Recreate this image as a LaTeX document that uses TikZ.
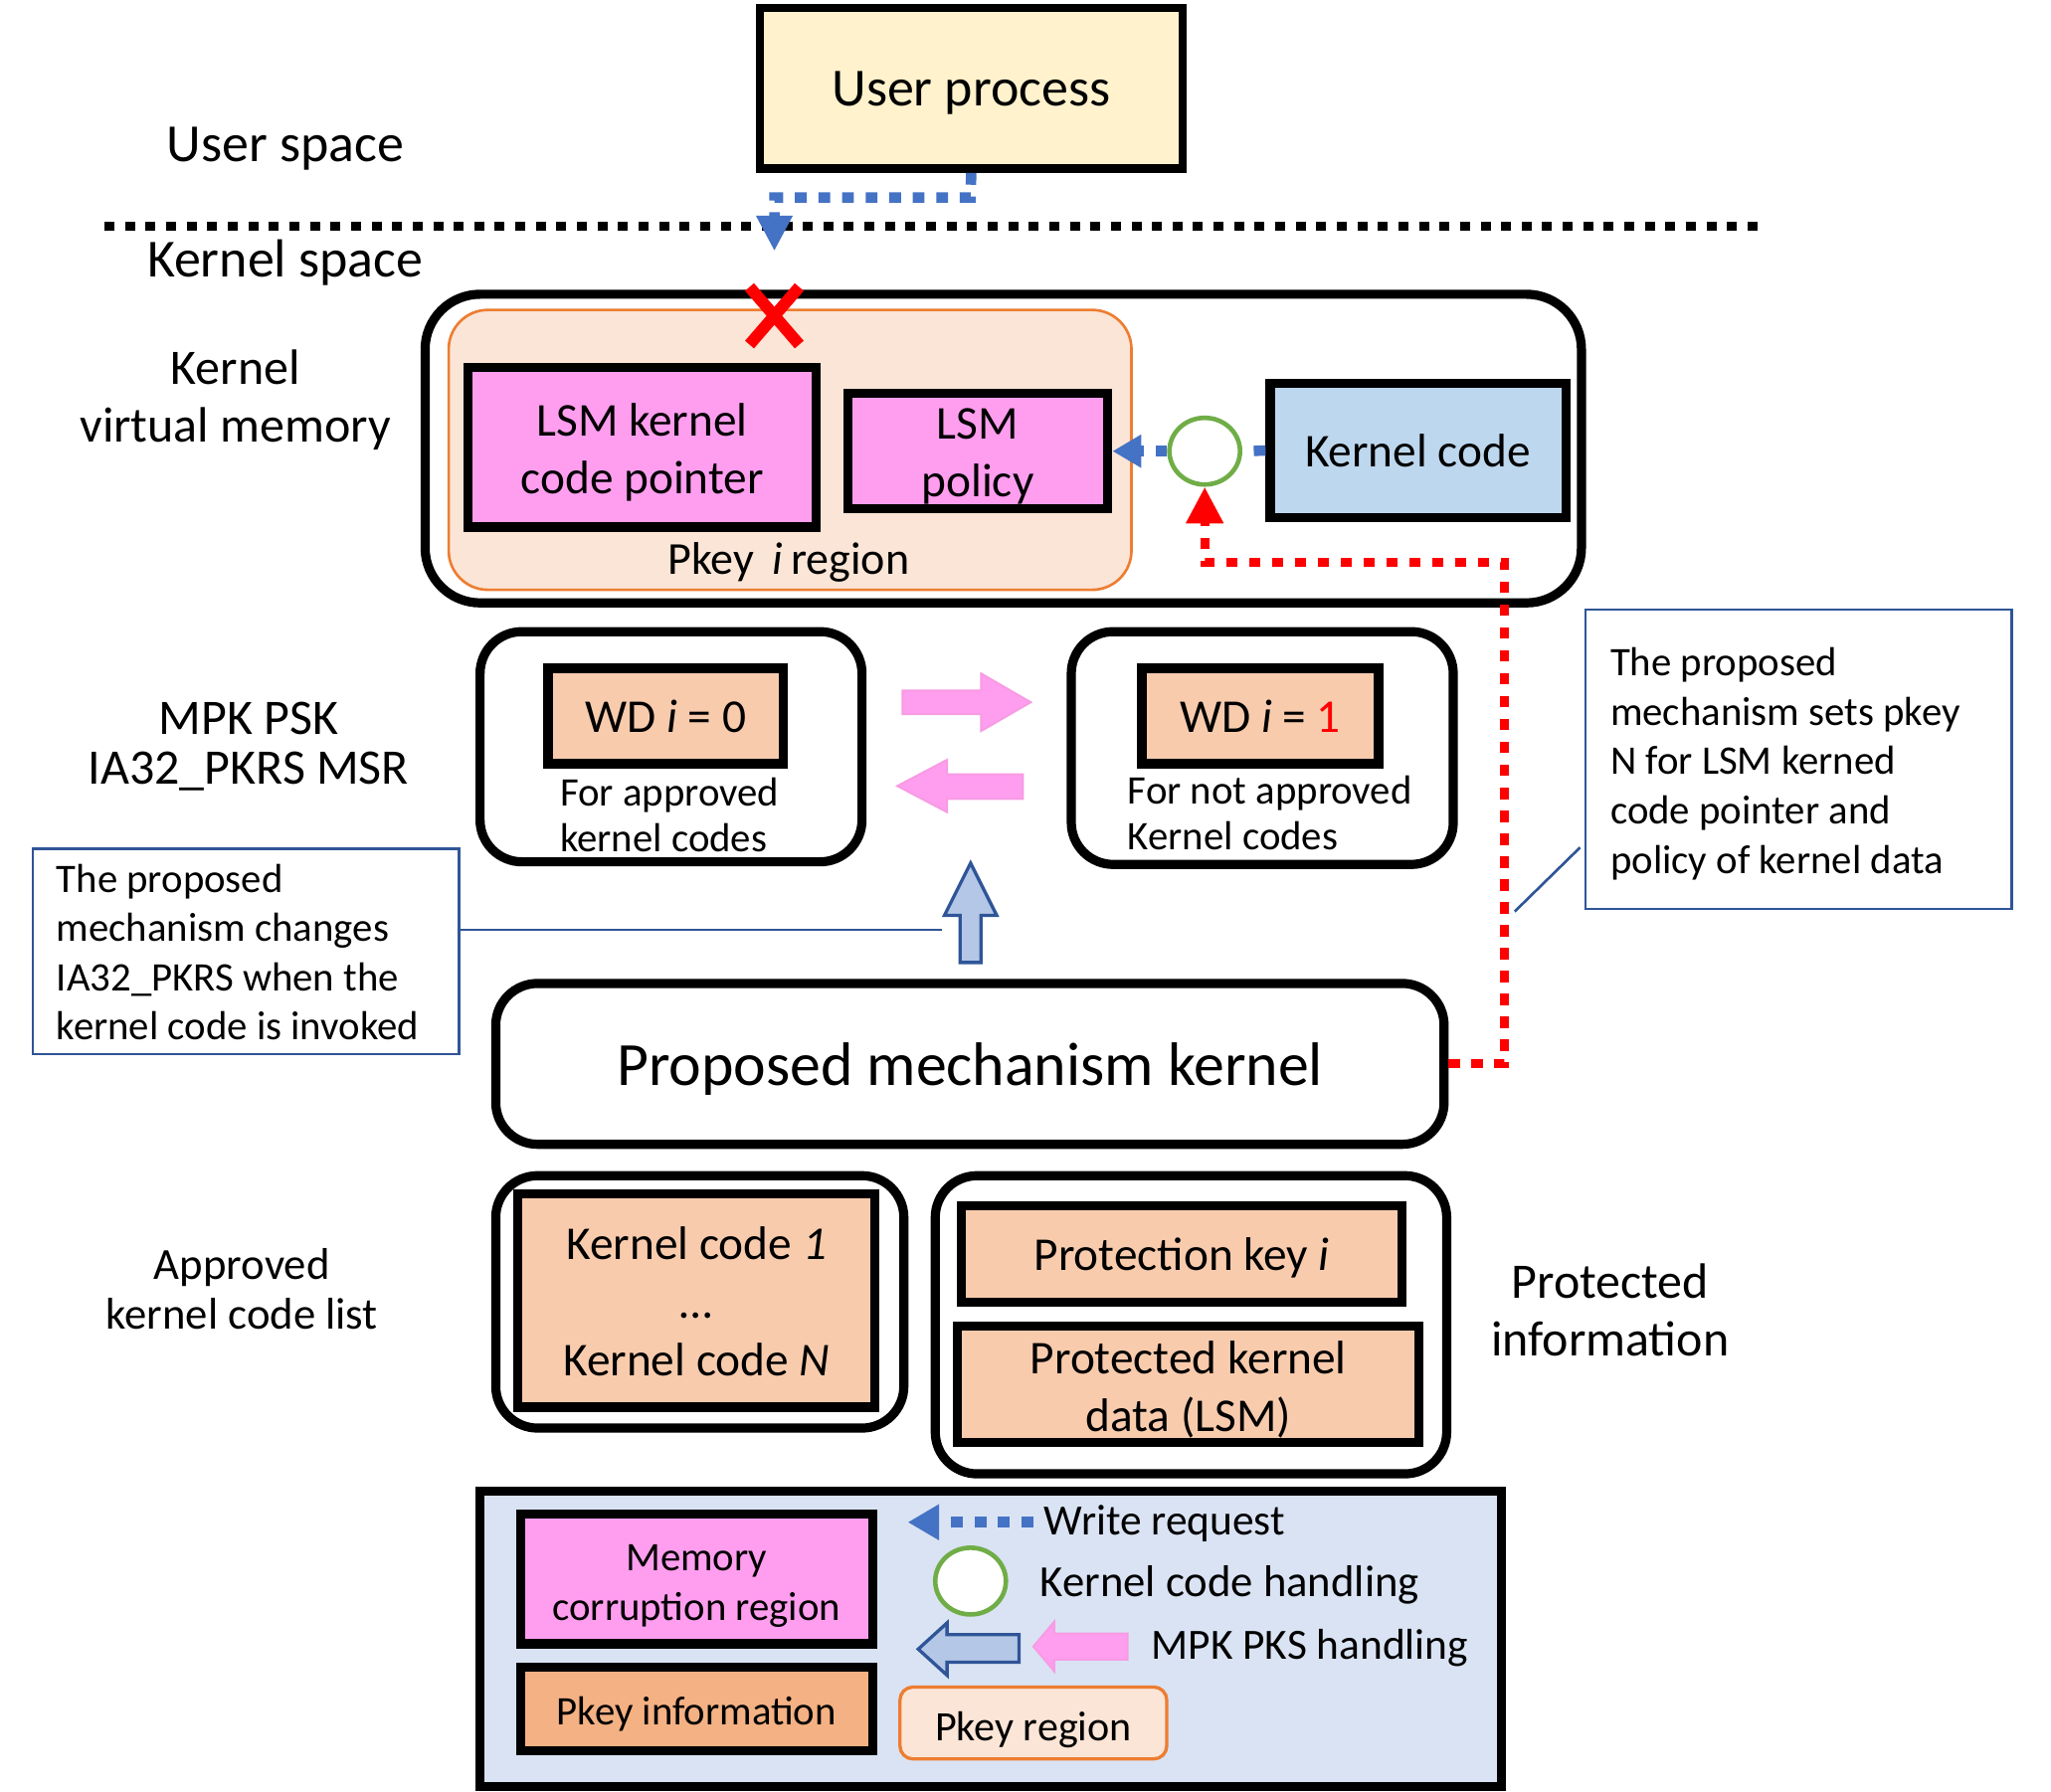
\documentclass[tikz,border=0pt]{standalone}
\usepackage{fontspec}
\setmainfont{Carlito}
\usetikzlibrary{arrows.meta,shapes.geometric}
\definecolor{userfill}{HTML}{FFF2CC}
\definecolor{mag}{HTML}{FF9EEF}
\definecolor{magB}{HTML}{F79BE3}
\definecolor{pkfill}{HTML}{FBE5D6}
\definecolor{orangeB}{HTML}{ED7D31}
\definecolor{kcfill}{HTML}{BDD7EE}
\definecolor{wdfill}{HTML}{F8CBAD}
\definecolor{pifill}{HTML}{F4B183}
\definecolor{legfill}{HTML}{DAE3F3}
\definecolor{grn}{HTML}{70AD47}
\definecolor{blu}{HTML}{4472C4}
\definecolor{dblu}{HTML}{2F5597}
\definecolor{lblu}{HTML}{B4C7E7}
\definecolor{rd}{HTML}{FF0000}
\newcommand\fsz[2]{\fontsize{#1pt}{#2pt}\selectfont}
\tikzset{
  box/.style={draw=black, line width=7pt, inner sep=0pt, align=center},
  rbox/.style={box, rounded corners=32pt},
  lbl/.style={inner sep=0pt, align=center},
  hcirc/.style={ellipse, draw=grn, line width=3.5pt, fill=white, minimum width=54pt, minimum height=51pt, inner sep=0pt},
  bluedot/.style={draw=blu, line width=8pt, dash pattern=on 9pt off 9pt},
  reddot/.style={draw=rd, line width=7pt, dash pattern=on 8.5pt off 9pt},
  sepline/.style={draw=black, line width=7.5pt, dash pattern=on 7.6pt off 8.1pt},
  callout/.style={draw=dblu, line width=2pt, inner sep=0pt},
  pinkarrow/.style={fill=mag, draw=magB, line width=1.5pt},
  bluearrow/.style={fill=lblu, draw=dblu, line width=2.5pt},
}
\begin{document}
\begin{tikzpicture}[x=1pt,y=-1pt]
\fill[white] (0,0) rectangle (1568,1370);
\useasboundingbox (0,0) rectangle (1568,1370);

% user space
\node[box, line width=6.5pt, fill=userfill, minimum width=323pt, minimum height=123pt] (up) at (742.5,67.5) {};
\node[lbl, font=\fsz{41}{49}] (upt) at (742.5,71.5) {User process};
\node[lbl, font=\fsz{41}{49}] (us) at (218,114) {User space};
\node[lbl, font=\fsz{41}{49}] (ks) at (218,201) {Kernel space};
\coordinate (sepL) at (80,173);
\coordinate (sepR) at (1350,173);
\draw[sepline] (sepL) -- (sepR);

% kernel virtual memory
\node[lbl, font=\fsz{38}{44}] (kvml) at (180,306) {Kernel\\virtual memory};
\node[rbox, minimum width=884pt, minimum height=236pt, rounded corners=42pt] (kvm) at (767,343) {};
\node[draw=orangeB, line width=2pt, fill=pkfill, rounded corners=30pt, minimum width=522pt, minimum height=214pt, inner sep=0pt] (pkr) at (604,344) {};
\node[lbl, font=\fsz{35}{42}] (pkl) at (603,430) {Pkey\hspace{14pt}\textit{i}\hspace{6pt}region};
\node[box, fill=mag, minimum width=266pt, minimum height=122pt] (lcp) at (491,342) {};
\node[lbl, font=\fsz{36}{44}] (lcpt) at (491,346) {LSM kernel\\code pointer};
\node[box, fill=mag, minimum width=199pt, minimum height=88pt] (pol) at (747.5,345) {};
\node[lbl, font=\fsz{36}{44}] (polt) at (747.5,349) {LSM\\policy};
\node[box, fill=kcfill, minimum width=226pt, minimum height=103pt] (kc) at (1084,344.5) {};
\node[lbl, font=\fsz{36}{44}] (kct) at (1084,344.5) {Kernel code};
\node[hcirc] (hc) at (921,345) {};
\coordinate (xc) at (592,241.5);
\draw[rd, line width=9pt] ([shift={(-19,-22)}]xc) -- ([shift={(19,22)}]xc);
\draw[rd, line width=9pt] ([shift={(19,-22)}]xc) -- ([shift={(-19,22)}]xc);

% write request from user process
\coordinate (wrtip) at (592,192);
\draw[bluedot, -{Triangle[length=27pt,width=26pt]}] (up.south) -- (742,151) -- (592,151) -- (wrtip);

% MPK PSK
\node[lbl, font=\fsz{38}{38}] (mpkl) at (190,571) {MPK PSK\\IA32\_PKRS MSR};
\node[rbox, minimum width=292pt, minimum height=176pt] (wdl) at (513,571) {};
\node[box, fill=wdfill, minimum width=180pt, minimum height=73pt] (wd0) at (509,547.5) {};
\node[lbl, font=\fsz{36}{44}] (wd0v) at (509,547.5) {WD \textit{i} = 0};
\node[lbl, align=left, anchor=west, font=\fsz{31}{35}] (wd0t) at (428,623) {For approved\\kernel codes};
\node[rbox, minimum width=292pt, minimum height=178pt] (wdr) at (965,572) {};
\node[box, fill=wdfill, minimum width=181pt, minimum height=73pt] (wd1) at (963.5,547.5) {};
\node[lbl, font=\fsz{36}{44}] (wd1v) at (963.5,547.5) {WD \textit{i} = \textcolor{rd}{1}};
\node[lbl, align=left, anchor=west, font=\fsz{31}{35}] (wd1t) at (862,622) {For not approved\\Kernel codes};

% pink arrows
\draw[pinkarrow] (690,528) -- (750,528) -- (750,515) -- (788,537) -- (750,559) -- (750,546) -- (690,546) -- cycle;
\draw[pinkarrow] (782,592) -- (724,592) -- (724,581) -- (686,601) -- (724,621) -- (724,611) -- (782,611) -- cycle;
% blue up arrow
\draw[bluearrow] (734,736) -- (734,700) -- (722,700) -- (742,660) -- (762,700) -- (750,700) -- (750,736) -- cycle;

% callouts
\node[callout, minimum width=326pt, minimum height=157pt] (cl) at (188,727.5) {};
\node[lbl, align=left, anchor=west, font=\fsz{31}{37.7}] (clt) at (43,728) {The proposed\\mechanism changes\\IA32\_PKRS when the\\kernel code is invoked};
\coordinate (clend) at (720,711);
\draw[dblu, line width=2pt] (cl.east |- clend) -- (clend);
\node[callout, minimum width=326pt, minimum height=229pt] (cr) at (1375,580.5) {};
\node[lbl, align=left, anchor=west, font=\fsz{31}{37.9}] (crt) at (1231,584) {The proposed\\mechanism sets pkey\\N for LSM kerned\\code pointer and\\policy of kernel data};
\coordinate (crs) at (1208,648);
\coordinate (cre) at (1158,697);
\draw[dblu, line width=2pt] (crs) -- (cre);

% proposed mechanism kernel
\node[rbox, minimum width=725pt, minimum height=123pt] (pmk) at (741.5,813.5) {};
\node[lbl, font=\fsz{47}{52}] (pmkt) at (741.5,817.5) {Proposed mechanism kernel};

% approved list
\node[lbl, font=\fsz{34}{38}] (akl) at (185,985.5) {Approved\\kernel code list};
\node[rbox, minimum width=312pt, minimum height=193pt] (lg) at (535,995.5) {};
\node[box, fill=wdfill, minimum width=273pt, minimum height=163pt] (kcl) at (532.5,994.5) {};
\node[lbl, font=\fsz{36}{44.5}] (kclt) at (532.5,995.5) {Kernel code \textit{1}\\…\\Kernel code \textit{N}};
\node[rbox, minimum width=391pt, minimum height=228pt] (rg) at (910.5,1013) {};
\node[box, fill=wdfill, minimum width=337pt, minimum height=74pt] (pki) at (903.5,959) {};
\node[lbl, font=\fsz{36}{44}] (pkit) at (903.5,962) {Protection key \textit{i}};
\node[box, fill=wdfill, minimum width=353pt, minimum height=89pt] (pkd) at (908.5,1058.5) {};
\node[lbl, font=\fsz{36}{44}] (pkdt) at (908.5,1062.5) {Protected kernel\\data (LSM)};
\node[lbl, font=\fsz{38}{44}] (pil) at (1231,1001.5) {Protected\\information};

% red dotted
\draw[reddot, -{Triangle[length=28pt,width=27pt]}] (pmk.east) -| (1150,430) -| (hc.south);
% blue dotted kernel code -> policy
\draw[bluedot] (kc.west) -- (hc.east);
\draw[bluedot, -{Triangle[length=22pt,width=24pt]}] (hc.west) -- (pol.east);

% legend
\node[box, fill=legfill, minimum width=781pt, minimum height=226pt] (leg) at (757.5,1253) {};
\node[box, fill=mag, minimum width=269pt, minimum height=99pt] (lmc) at (532.5,1207.5) {};
\node[lbl, font=\fsz{31}{38}] (lmct) at (532.5,1212.5) {Memory\\corruption region};
\node[box, fill=pifill, minimum width=269pt, minimum height=64pt] (lpi) at (532.5,1307) {};
\node[lbl, font=\fsz{31}{38}] (lpit) at (532.5,1311) {Pkey information};
\coordinate (lwa) at (790,1164);
\coordinate (lwb) at (694,1164);
\draw[bluedot, -{Triangle[length=24pt,width=26pt]}] (lwa) -- (lwb);
\node[lbl, anchor=west, font=\fsz{33}{38}] (lwt) at (798,1165) {Write request};
\node[hcirc] (lhc) at (742,1209) {};
\node[lbl, anchor=west, font=\fsz{34}{38}] (lht) at (795,1212) {Kernel code handling};
\draw[bluearrow] (779,1250) -- (724,1250) -- (724,1241) -- (702,1261) -- (724,1281) -- (724,1271) -- (779,1271) -- cycle;
\draw[pinkarrow] (862,1249) -- (806,1249) -- (806,1240) -- (790,1259) -- (806,1278) -- (806,1269) -- (862,1269) -- cycle;
\node[lbl, anchor=west, font=\fsz{33}{38}] (lmt) at (880,1260) {MPK PKS handling};
\node[draw=orangeB, line width=2.5pt, fill=pkfill, rounded corners=10pt, minimum width=204pt, minimum height=55pt, inner sep=0pt] (lpr) at (790,1317.5) {};
\node[lbl, font=\fsz{32}{38}] (lprt) at (790,1322.5) {Pkey region};
\end{tikzpicture}
\end{document}
